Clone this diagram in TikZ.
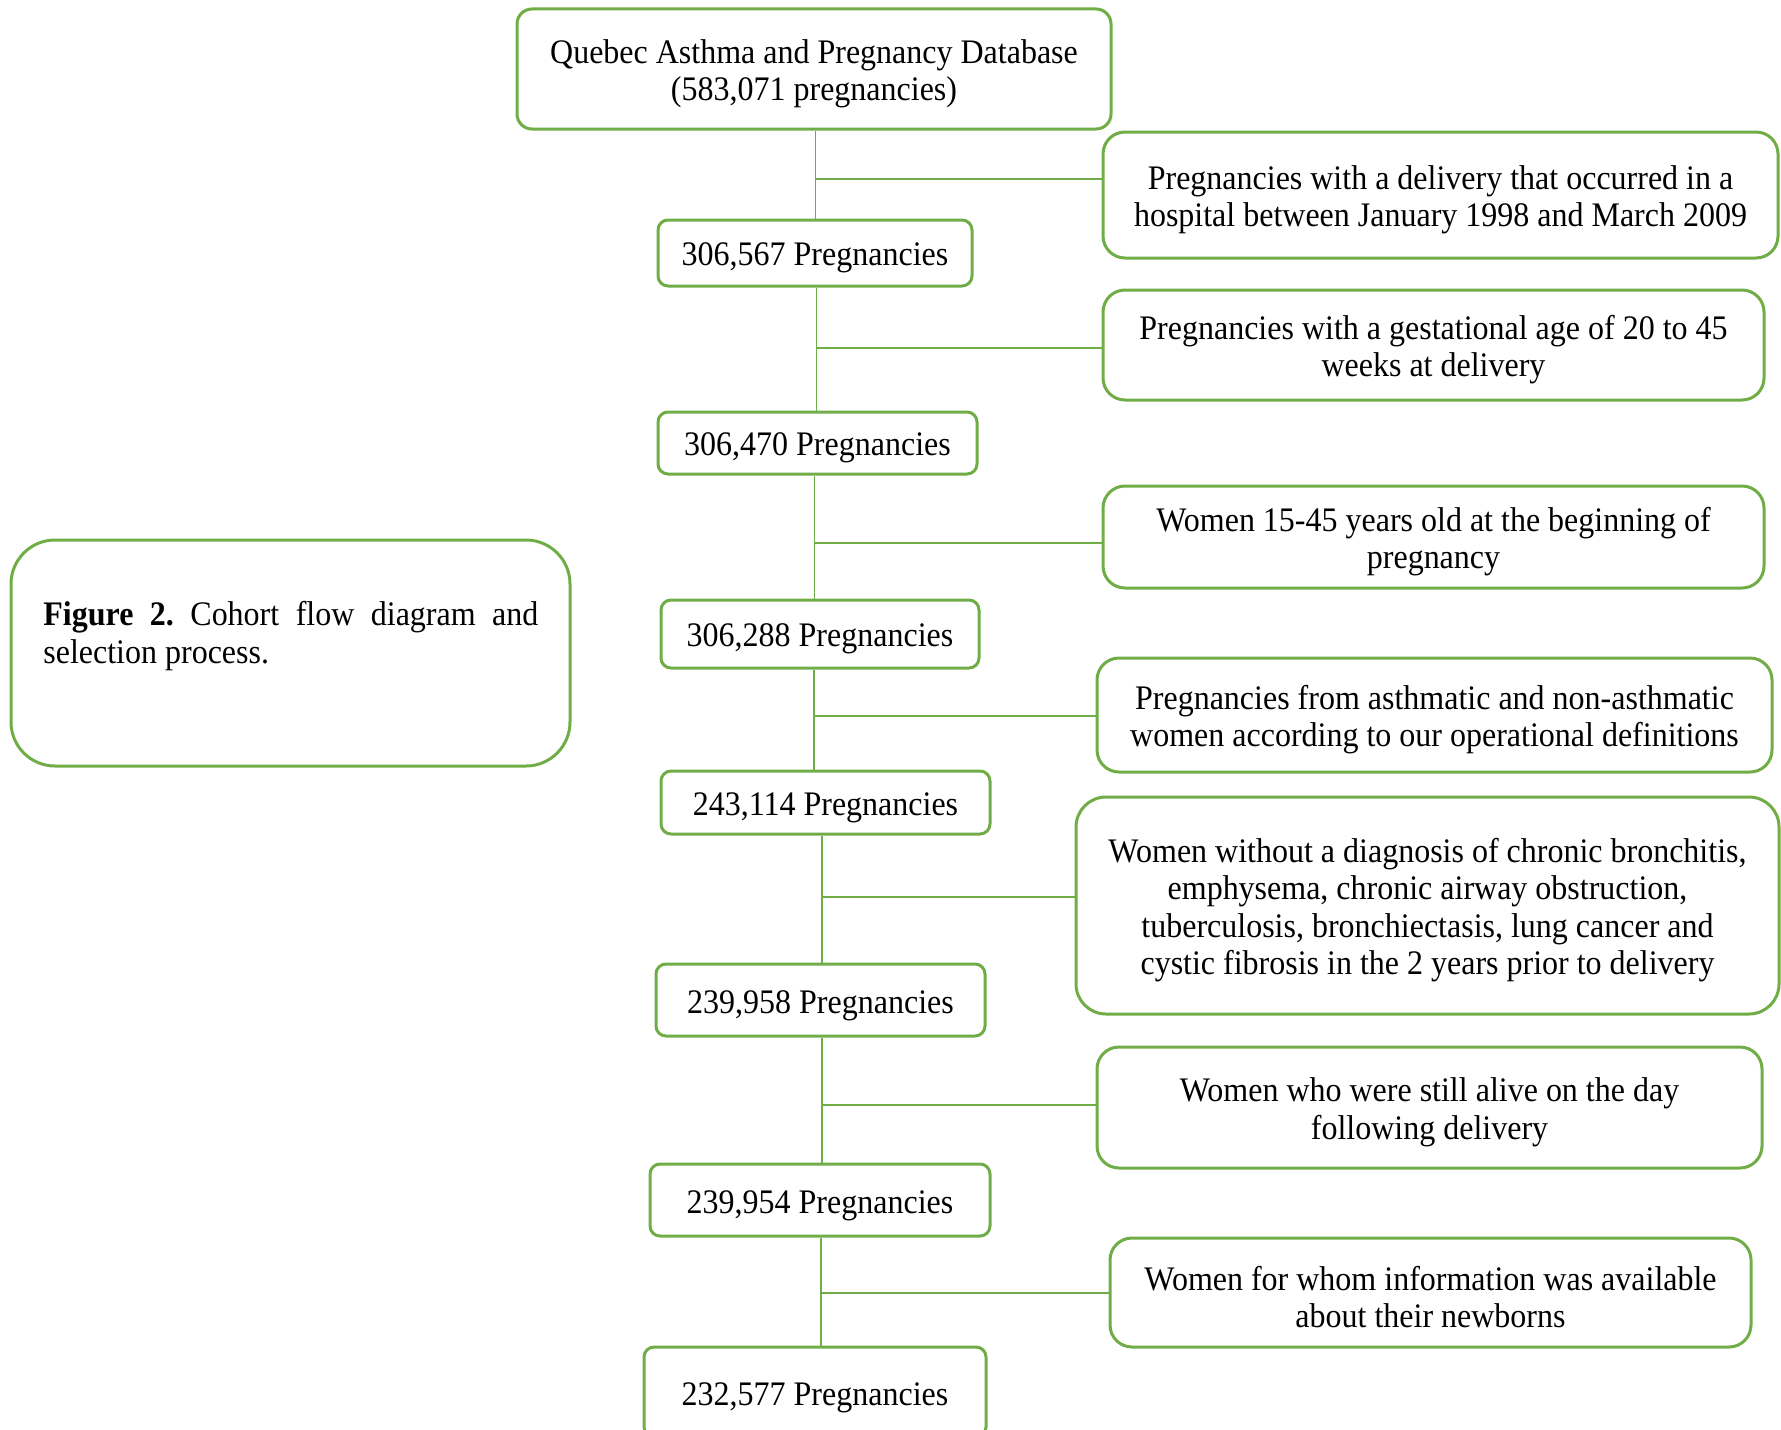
\documentclass[tikz,border=0pt]{standalone}
\usepackage{fontspec}
\setmainfont{Liberation Serif}[FakeStretch=0.93]
\usetikzlibrary{calc}
\definecolor{boxgreen}{HTML}{70AD47}
\newcommand{\boxlift}{\rule{0pt}{16.7pt}}
\tikzset{
  every node/.style={font=\fontsize{17.2}{18.75}\selectfont},
  cnt/.style={draw=boxgreen,line width=1.5pt,rounded corners=5pt,fill=white,align=center,inner sep=0pt},
  excl/.style={draw=boxgreen,line width=1.5pt,rounded corners=11pt,fill=white,align=center,inner sep=0pt},
  note/.style={draw=boxgreen,line width=1.5pt,rounded corners=22pt,inner sep=0pt},
  link/.style={draw=boxgreen,line width=0.8pt}
}

\begin{document}
\frenchspacing
\begin{tikzpicture}[x=0.5pt,y=-0.5pt]
    \useasboundingbox (0,0) rectangle (1781,1429);

    \node [excl, rounded corners=7.5pt, minimum width=297pt, minimum height=60pt] (db) at (814,69) {\boxlift Quebec Asthma and Pregnancy Database\\(583,071 pregnancies)};

    \node [cnt, minimum width=157pt, minimum height=33pt] (p1) at (815,253) {\boxlift 306,567 Pregnancies};
    \node [cnt, minimum width=159.5pt, minimum height=31pt] (p2) at (817.5,443) {\boxlift 306,470 Pregnancies};
    \node [cnt, minimum width=159pt, minimum height=34pt] (p3) at (820,634) {\boxlift 306,288 Pregnancies};
    \node [cnt, minimum width=164.5pt, minimum height=31.5pt] (p4) at (825.5,802.5) {\boxlift 243,114 Pregnancies};
    \node [cnt, minimum width=164.5pt, minimum height=36pt] (p5) at (820.5,1000) {\boxlift 239,958 Pregnancies};
    \node [cnt, minimum width=170pt, minimum height=36pt] (p6) at (820,1200) {\boxlift 239,954 Pregnancies};
    \node [cnt, minimum width=171pt, minimum height=45pt] (p7) at (815,1392) {\boxlift 232,577 Pregnancies};

    \node [excl, minimum width=337.5pt, minimum height=63pt] (x1) at (1440.5,195) {\boxlift Pregnancies with a delivery that occurred in a\\hospital between January 1998 and March 2009};
    \node [excl, minimum width=330.5pt, minimum height=55pt] (x2) at (1433.5,345) {\boxlift Pregnancies with a gestational age of 20 to 45\\weeks at delivery};
    \node [excl, minimum width=330.5pt, minimum height=51pt] (x3) at (1433.5,537) {\boxlift Women 15-45 years old at the beginning of\\pregnancy};
    \node [excl, minimum width=337.5pt, minimum height=57pt] (x4) at (1434.5,715) {\boxlift Pregnancies from asthmatic and non-asthmatic\\women according to our operational definitions};
    \node [excl, rounded corners=15pt, minimum width=351.5pt, minimum height=108.5pt] (x5) at (1427.5,905.5) {\boxlift Women without a diagnosis of chronic bronchitis,\\emphysema, chronic airway obstruction,\\tuberculosis, bronchiectasis, lung cancer and\\cystic fibrosis in the 2 years prior to delivery};
    \node [excl, minimum width=332.5pt, minimum height=60.5pt] (x6) at (1429.5,1107.5) {\boxlift Women who were still alive on the day\\following delivery};
    \node [excl, minimum width=320.5pt, minimum height=54.5pt] (x7) at (1430.5,1292.5) {\boxlift Women for whom information was available\\about their newborns};

    \node [note, minimum width=279.5pt, minimum height=113pt] (cap) at (290.5,653) {};
    \node [anchor=north west, text width=247.5pt, align=justify, inner sep=0pt] (captext) at (43,601) {\textbf{Figure 2.} Cohort flow diagram and \mbox{selection} process.};

    \coordinate (j1) at (815.5,179);
    \coordinate (j2) at (816.5,348);
    \coordinate (j3) at (814.5,543);
    \coordinate (j4) at (814,716);
    \coordinate (j5) at (822,897);
    \coordinate (j6) at (822,1105);
    \coordinate (j7) at (821,1293);

    \draw [link] (db.south -| j1) -- (p1.north -| j1);
    \draw [link] (p1.south -| j2) -- (p2.north -| j2);
    \draw [link] (p2.south -| j3) -- (p3.north -| j3);
    \draw [link] (p3.south -| j4) -- (p4.north -| j4);
    \draw [link] (p4.south -| j5) -- (p5.north -| j5);
    \draw [link] (p5.south -| j6) -- (p6.north -| j6);
    \draw [link] (p6.south -| j7) -- (p7.north -| j7);

    \draw [link] (j1) -- (j1 -| x1.west);
    \draw [link] (j2) -- (j2 -| x2.west);
    \draw [link] (j3) -- (j3 -| x3.west);
    \draw [link] (j4) -- (j4 -| x4.west);
    \draw [link] (j5) -- (j5 -| x5.west);
    \draw [link] (j6) -- (j6 -| x6.west);
    \draw [link] (j7) -- (j7 -| x7.west);
\end{tikzpicture}
\end{document}
